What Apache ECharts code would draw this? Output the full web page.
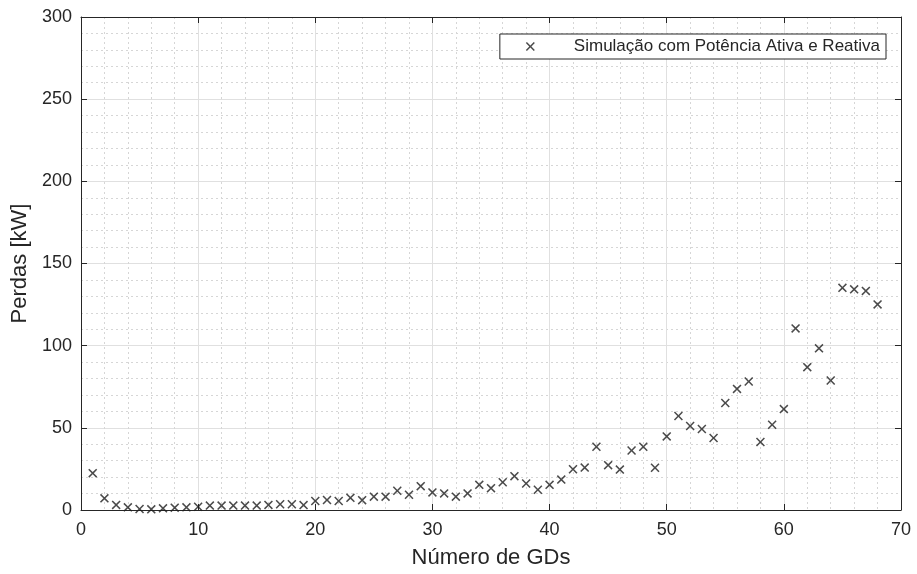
<!DOCTYPE html>
<html>
<head>
<meta charset="utf-8">
<script src="https://cdn.jsdelivr.net/npm/echarts@6/dist/echarts.min.js"></script>
<style>
  html, body { margin: 0; padding: 0; background: #fff; }
  #chart { width: 917px; height: 574px; }
</style>
</head>
<body>
<div id="chart"></div>
<script>
  // numero de GDs
  const gdCount = [1, 2, 3, 4, 5, 6, 7, 8, 9, 10, 11, 12, 13, 14, 15, 16, 17,
    18, 19, 20, 21, 22, 23, 24, 25, 26, 27, 28, 29, 30, 31, 32, 33, 34, 35,
    36, 37, 38, 39, 40, 41, 42, 43, 44, 45, 46, 47, 48, 49, 50, 51, 52, 53,
    54, 55, 56, 57, 58, 59, 60, 61, 62, 63, 64, 65, 66, 67, 68];
  // perdas [kW]
  const losses = [22.4, 7.1, 3.1, 1.6, 0.6, 0.4, 1.0, 1.4, 1.6, 2.0, 2.7, 2.7,
    2.7, 2.7, 2.7, 3.1, 3.5, 3.5, 3.0, 5.5, 6.1, 5.5, 7.4, 6.0, 8.1, 8.1,
    11.7, 9.3, 14.5, 10.7, 10.1, 8.1, 10.1, 15.3, 13.3, 16.9, 20.6, 16.1,
    12.3, 15.3, 18.5, 24.8, 25.8, 38.5, 27.3, 24.6, 36.2, 38.5, 25.7, 44.8,
    57.2, 51.1, 49.3, 43.8, 65.1, 73.7, 78.2, 41.4, 51.9, 61.4, 110.5, 86.9,
    98.4, 78.8, 135.2, 134.3, 133.3, 125.1];
  const seriesName = 'Simulação com Potência Ativa e Reativa';
  const xTitle = 'Número de GDs';
  const yTitle = 'Perdas [kW]';

  const ink = '#262626';
  const font = "'Liberation Sans', Arial, sans-serif";
  const cross = 'path://M0,1.2L1.2,0L5,3.8L8.8,0L10,1.2L6.2,5L10,8.8L8.8,10L5,6.2L1.2,10L0,8.8L3.8,5Z';

  const points = gdCount.map((n, i) => [n, losses[i]]);

  const chart = echarts.init(document.getElementById('chart'));

  const gridLines = {
    splitLine: { show: true, lineStyle: { color: '#e0e0e0', width: 1 } },
    minorTick: { show: false, splitNumber: 5 },
    minorSplitLine: { show: true, lineStyle: { color: '#d6d6d6', type: [2, 3], width: 1 } }
  };
  const tick = { show: true, inside: true, length: 6, lineStyle: { color: ink } };

  const option = {
    animation: false,
    backgroundColor: '#fff',
    grid: { left: 81, right: 16, top: 17, bottom: 61, show: false },
    legend: {
      right: 31,
      top: 34,
      orient: 'vertical',
      data: [seriesName],
      icon: cross,
      itemWidth: 9,
      itemHeight: 9,
      padding: [4, 6, 4, 26],
      borderColor: ink,
      borderWidth: 1,
      backgroundColor: '#fff',
      textStyle: { color: ink, fontFamily: font, fontSize: 17, padding: [0, 0, 0, 34] }
    },
    xAxis: [{
      type: 'value',
      min: 0,
      max: 70,
      interval: 10,
      name: xTitle,
      nameLocation: 'middle',
      nameGap: 37,
      nameTextStyle: { color: ink, fontFamily: font, fontSize: 22 },
      axisLine: { show: true, onZero: false, lineStyle: { color: ink, width: 1 } },
      axisTick: tick,
      axisLabel: { color: ink, fontFamily: font, fontSize: 18, margin: 11 },
      ...gridLines
    }, {
      type: 'value',
      position: 'top',
      min: 0,
      max: 70,
      interval: 10,
      axisLine: { show: true, onZero: false, lineStyle: { color: ink, width: 1 } },
      axisTick: tick,
      axisLabel: { show: false },
      splitLine: { show: false }
    }],
    yAxis: [{
      type: 'value',
      min: 0,
      max: 300,
      interval: 50,
      name: yTitle,
      nameLocation: 'middle',
      nameGap: 40,
      nameTextStyle: { color: ink, fontFamily: font, fontSize: 22 },
      axisLine: { show: true, onZero: false, lineStyle: { color: ink, width: 1 } },
      axisTick: tick,
      axisLabel: { color: ink, fontFamily: font, fontSize: 18, margin: 9 },
      ...gridLines
    }, {
      type: 'value',
      position: 'right',
      min: 0,
      max: 300,
      interval: 50,
      axisLine: { show: true, onZero: false, lineStyle: { color: ink, width: 1 } },
      axisTick: tick,
      axisLabel: { show: false },
      splitLine: { show: false }
    }],
    series: [{
      name: seriesName,
      type: 'scatter',
      xAxisIndex: 0,
      yAxisIndex: 0,
      symbol: cross,
      symbolSize: 9,
      itemStyle: { color: '#1e1e1e' },
      data: points
    }]
  };

  chart.setOption(option);
</script>
</body>
</html>
